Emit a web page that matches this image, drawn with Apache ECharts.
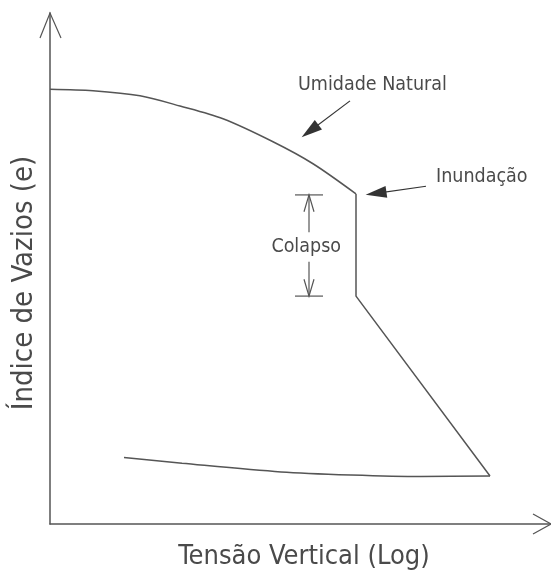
<!DOCTYPE html>
<html>
<head>
<meta charset="utf-8">
<script src="https://cdn.jsdelivr.net/npm/echarts@6/dist/echarts.min.js"></script>
<style>
  html, body { margin: 0; padding: 0; background: #fff; }
  #chart { width: 551px; height: 574px; }
</style>
</head>
<body>
<div id="chart"></div>
<script>
// curva de compressao (umidade natural)
var curvaNatural = [[0, 85.1], [8.6, 84.8], [18, 83.8], [26, 81.8], [34.6, 79.3], [44.6, 74.8], [52.6, 70.5], [61.2, 64.6]];
// inundacao: colapso vertical e depois trecho reto
var curvaInundada = [[61.2, 64.6], [61.2, 44.6], [88, 9.4]];
// descarregamento
var curvaDescarga = [[88, 9.4], [74.2, 9.3], [60.2, 9.6], [46.2, 10.2], [26.4, 11.9], [14.8, 13.0]];

// setas das anotacoes [inicio, ponta]
var setaUmidade = [[60, 82.8], [52, 76.9]];
var setaInundacao = [[75.2, 66.1], [65.2, 64.7]];

// cota do colapso
var cotaColapso = [
  [[49, 64.4], [54.6, 64.4]],
  [[49, 44.6], [54.6, 44.6]],
  [[51.8, 64.4], [51.8, 57.1]],
  [[51.8, 51.3], [51.8, 44.6]],
  [[50.8, 61.1], [51.8, 64.4], [52.8, 61.1]],
  [[50.8, 47.9], [51.8, 44.6], [52.8, 47.9]]
];

// pontas dos eixos
var pontasEixos = [
  [[-2, 95.1], [0, 100], [2.2, 95.1]],
  [[96.6, 1.96], [100.2, 0], [96.6, -1.96]]
];

var corLinha = '#555';
var corTexto = '#4a4a4a';
var fonte = '"DejaVu Sans Condensed", "Liberation Sans", sans-serif';

var myChart = echarts.init(document.getElementById('chart'));

var option = {
  animation: false,
  backgroundColor: '#fff',
  grid: { left: 50, right: 1, top: 13, bottom: 50, containLabel: false },
  xAxis: {
    type: 'value', min: 0, max: 100,
    axisLine: { show: true, onZero: false, lineStyle: { color: corLinha, width: 1.5 } },
    axisTick: { show: false }, axisLabel: { show: false }, splitLine: { show: false }
  },
  yAxis: {
    type: 'value', min: 0, max: 100,
    axisLine: { show: true, onZero: false, lineStyle: { color: corLinha, width: 1.5 } },
    axisTick: { show: false }, axisLabel: { show: false }, splitLine: { show: false }
  },
  series: [
    {
      type: 'line', data: curvaNatural, smooth: 0.3, showSymbol: false, clip: false,
      lineStyle: { color: corLinha, width: 1.5 }
    },
    {
      type: 'line', data: curvaInundada, smooth: false, showSymbol: false, clip: false,
      lineStyle: { color: corLinha, width: 1.5 }
    },
    {
      type: 'line', data: curvaDescarga, smooth: 0.3, showSymbol: false, clip: false,
      lineStyle: { color: corLinha, width: 1.5 }
    },
    {
      type: 'lines', coordinateSystem: 'cartesian2d', polyline: true, clip: false,
      lineStyle: { color: corLinha, width: 1.2, opacity: 1 },
      data: cotaColapso.map(function (c) { return { coords: c }; })
    },
    {
      type: 'lines', coordinateSystem: 'cartesian2d', polyline: true, clip: false,
      lineStyle: { color: corLinha, width: 1.2, opacity: 1 },
      data: pontasEixos.map(function (c) { return { coords: c }; })
    },
    {
      type: 'lines', coordinateSystem: 'cartesian2d', clip: false,
      symbol: ['none', 'triangle'], symbolSize: [0, [12, 21]],
      lineStyle: { color: '#333', width: 1.2, opacity: 1 },
      itemStyle: { color: '#1a1a1a' },
      data: [{ coords: setaUmidade }, { coords: setaInundacao }]
    }
  ],
  graphic: [
    { type: 'text', x: 298, y: 85, style: { text: 'Umidade Natural', font: '19.5px ' + fonte, fill: corTexto, textAlign: 'left', textVerticalAlign: 'middle' } },
    { type: 'text', x: 436, y: 177, style: { text: 'Inundação', font: '19.5px ' + fonte, fill: corTexto, textAlign: 'left', textVerticalAlign: 'middle' } },
    { type: 'text', x: 341, y: 247, style: { text: 'Colapso', font: '19.5px ' + fonte, fill: corTexto, textAlign: 'right', textVerticalAlign: 'middle' } },
    { type: 'text', x: 304, y: 557, style: { text: 'Tensão Vertical (Log)', font: '27px ' + fonte, fill: corTexto, textAlign: 'center', textVerticalAlign: 'middle' } },
    { type: 'text', x: 24, y: 283, rotation: Math.PI / 2, style: { text: 'Índice de Vazios (e)', font: '29px ' + fonte, fill: corTexto, textAlign: 'center', textVerticalAlign: 'middle' } }
  ]
};

myChart.setOption(option);
</script>
</body>
</html>
